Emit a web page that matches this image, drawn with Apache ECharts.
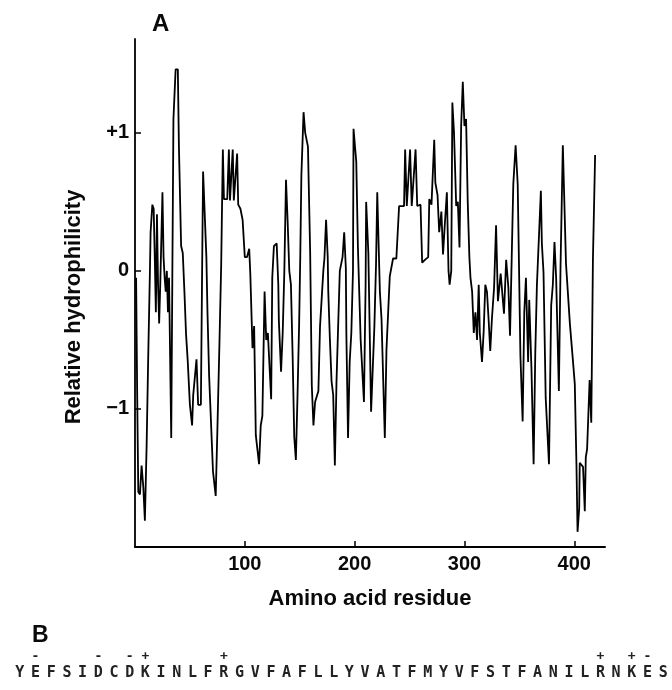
<!DOCTYPE html>
<html>
<head>
<meta charset="utf-8">
<script src="https://cdn.jsdelivr.net/npm/echarts@6/dist/echarts.min.js"></script>
<style>
html,body{margin:0;padding:0;background:#fff;}
#c{width:672px;height:690px;}
</style>
</head>
<body>
<div id="c"></div>
<script>
// Hydrophilicity profile: [residue, relative hydrophilicity]
const residues = [1,2,3,4.5,6,7.6,9,10.6,12,13.6,14.2,15.8,17,18,19,20,21,22,23,25,26,27,28,29,30,31,33,34,35,37,39,40,42,43.5,45,46.5,48,50,52,53,56,57.5,60,61,62,65,66,67.5,71,73.5,75,77,78.5,80,81,84,85.5,86.5,89,90,93,94,96,98,100,102,104,105,107,108.5,110,113,114.5,116,118,119.5,121,124,125,126.5,129,130.5,131,133,134.5,136,137.5,139,140.5,142,143.5,145,146.5,148,149.5,150.5,151.5,153.5,155,157.5,159.5,161,162.5,164,167,168.5,171.5,172.5,174,175.5,176,177.5,179,180.5,182,183.5,186.5,187.5,189,190.5,192,192.5,194,195.5,197,198.5,199,201.5,203,204,205.5,208.5,210,210.5,212.5,215,218,219.5,220.6,222.5,223,224.5,227.5,229,232,235,238,239.5,240.5,245,246,247.5,250.5,252,255.5,257,260,261.5,264,267,268,270,272.5,273.5,275.5,277,279,280.5,282,284,285.5,286.5,288,289,290.5,292.5,294,295.5,297,298.5,300,301.5,303,304.5,305.5,307,308.5,310,311.5,313,314,316,317.5,319,320.5,322,323.5,325,327,328.8,330.5,333,336,338,340,341.5,343,344.5,346.6,348.5,351,353,354.5,356,358,359,361,363,364.5,366,369.6,370.5,372,374,377,379,380.5,382,383.5,386,387.5,389.6,391,392.5,396,399,400.5,402,403,404.5,405,408,409.6,410.5,411.7,414,415.5,417,419];
const hydrophilicity = [-0.05,-0.9,-1.6,-1.62,-1.41,-1.57,-1.81,-1.26,-0.64,0.0,0.28,0.48,0.45,0.1,-0.3,0.41,-0.1,-0.38,-0.1,0.57,0.1,-0.05,-0.15,0.0,-0.3,-0.05,-1.21,-0.04,1.1,1.46,1.46,0.9,0.18,0.13,-0.15,-0.46,-0.65,-0.97,-1.12,-0.9,-0.64,-0.97,-0.97,-0.1,0.72,0.1,-0.3,-0.76,-1.45,-1.63,-1.16,-0.49,0.05,0.88,0.52,0.52,0.88,0.51,0.88,0.51,0.85,0.48,0.45,0.37,0.1,0.1,0.16,-0.02,-0.56,-0.4,-1.19,-1.4,-1.12,-1.05,-0.15,-0.5,-0.45,-0.93,-0.05,0.18,0.2,-0.1,-0.36,-0.73,-0.45,0.0,0.66,0.36,0.0,-0.1,-0.6,-1.2,-1.37,-0.9,-0.37,0.1,0.69,1.15,1.0,0.9,0.14,-0.83,-1.12,-0.95,-0.87,-0.4,0.0,0.09,0.37,0.1,-0.15,-0.5,-0.8,-0.9,-1.41,-0.8,0.0,0.04,0.1,0.28,0.02,-0.47,-1.21,-0.66,-0.45,0.0,1.03,0.79,0.17,-0.1,-0.5,-0.95,-0.1,0.5,0.13,-1.02,-0.4,0.05,0.57,0.0,-0.15,-0.35,-1.21,-0.57,-0.04,0.09,0.09,0.1,0.47,0.47,0.88,0.47,0.88,0.47,0.88,0.47,0.48,0.06,0.08,0.1,0.52,0.48,0.95,0.64,0.55,0.28,0.43,0.12,0.32,0.57,0.0,-0.1,0.0,1.22,1.0,0.47,0.5,0.17,1.05,1.37,1.05,1.1,0.5,0.1,-0.05,-0.15,-0.45,-0.3,-0.5,-0.1,-0.45,-0.66,-0.44,-0.1,-0.15,-0.35,-0.58,-0.35,-0.12,0.33,-0.22,-0.02,-0.31,0.08,-0.12,-0.47,0.08,0.63,0.91,0.63,-0.62,-1.09,-0.3,-0.05,-0.66,-0.21,-0.7,-1.4,-0.6,-0.1,0.58,0.2,-0.01,-0.92,-1.4,-0.25,-0.1,0.21,-0.05,-0.87,0.03,0.91,0.9,0.05,-0.38,-0.67,-0.82,-1.4,-1.89,-1.72,-1.39,-1.42,-1.74,-1.35,-1.29,-0.79,-1.1,0.08,0.84];

const xTicks = [100, 200, 300, 400];
const yTicks = [-1, 0, 1];

// Panel B: sequence and charges (one entry per residue)
const sequence = ['Y','E','F','S','I','D','C','D','K','I','N','L','F','R','G','V','F','A','F','L','L','Y','V','A','T','F','M','Y','V','F','S','T','F','A','N','I','L','R','N','K','E','S'];
const charges  = ['','-','','','','-','','-','+','','','','','+','','','','','','','','','','','','','','','','','','','','','','','','+','','+','-',''];

const lineData = residues.map((r, i) => [r, hydrophilicity[i]]);

const chart = echarts.init(document.getElementById('c'), null, {renderer: 'canvas'});
const txt = '#0a0a0a';
const sans = 'Liberation Sans';
chart.setOption({
  backgroundColor: '#fff',
  animation: false,
  grid: [
    {left: 135, right: 67, top: 39, bottom: 143, containLabel: false},
    {left: 12, right: 1, top: 640, height: 22, containLabel: false}
  ],
  xAxis: [
    {
      gridIndex: 0, type: 'value', min: 0, max: 428,
      name: 'Amino acid residue', nameLocation: 'middle', nameGap: 41,
      nameTextStyle: {fontFamily: sans, fontWeight: 'bold', fontSize: 22, color: txt},
      axisLine: {show: true, onZero: false, lineStyle: {color: '#000', width: 2}},
      axisTick: {show: true, inside: true, length: 6, customValues: xTicks, lineStyle: {color: '#000', width: 1.5}},
      axisLabel: {show: true, customValues: xTicks, margin: 7, fontFamily: sans, fontWeight: 'bold', fontSize: 20, color: txt},
      splitLine: {show: false}
    },
    {
      gridIndex: 1, type: 'category', data: sequence, position: 'bottom',
      axisLine: {show: false}, axisTick: {show: false}, splitLine: {show: false},
      axisLabel: {interval: 0, margin: 11, verticalAlign: 'middle', fontFamily: 'DejaVu Sans Mono', fontWeight: 'bold', fontSize: 15, color: '#222'}
    },
    {
      gridIndex: 1, type: 'category', data: charges, position: 'bottom',
      axisLine: {show: false}, axisTick: {show: false}, splitLine: {show: false},
      axisLabel: {interval: 0, margin: -5, verticalAlign: 'middle', fontFamily: 'DejaVu Sans Mono', fontWeight: 'bold', fontSize: 13, color: '#222'}
    }
  ],
  yAxis: [
    {
      gridIndex: 0, type: 'value', min: -2, max: 1.68,
      name: 'Relative hydrophilicity', nameLocation: 'middle', nameGap: 50,
      nameTextStyle: {fontFamily: sans, fontWeight: 'bold', fontSize: 22, color: txt, padding: [0, 28, 0, 0]},
      axisLine: {show: true, onZero: false, lineStyle: {color: '#000', width: 1.8}},
      axisTick: {show: true, inside: true, length: 6, customValues: yTicks, lineStyle: {color: '#000', width: 1.5}},
      axisLabel: {show: true, customValues: yTicks, margin: 6, fontFamily: sans, fontWeight: 'bold', fontSize: 20, color: txt,
        formatter: v => v > 0 ? '+' + v : (v < 0 ? '\u2212' + Math.abs(v) : '0')},
      splitLine: {show: false}
    },
    {gridIndex: 1, type: 'value', show: false}
  ],
  graphic: [
    {type: 'text', left: 152, top: 12, style: {text: 'A', fontFamily: sans, fontWeight: 'bold', fontSize: 24, fill: txt}},
    {type: 'text', left: 32, top: 624, style: {text: 'B', fontFamily: sans, fontWeight: 'bold', fontSize: 23, fill: txt}}
  ],
  series: [
    {
      type: 'line', xAxisIndex: 0, yAxisIndex: 0, data: lineData,
      showSymbol: false, symbol: 'none', smooth: false,
      lineStyle: {color: '#000', width: 1.8}
    }
  ]
});
</script>
</body>
</html>
